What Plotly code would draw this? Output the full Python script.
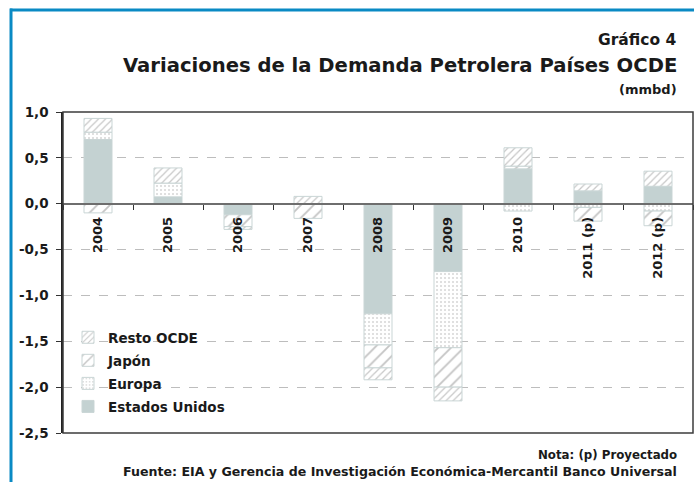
import plotly.graph_objects as go

categories = ["2004", "2005", "2006", "2007", "2008", "2009", "2010", "2011 (p)", "2012 (p)"]
estados_unidos = [0.70, 0.075, -0.12, None, -1.20, -0.74, 0.38, 0.14, 0.19]
europa = [0.08, 0.15, None, None, -0.34, -0.83, -0.08, -0.04, -0.08]
japon = [-0.10, None, -0.13, -0.16, -0.25, -0.43, 0.03, -0.15, -0.16]
resto_ocde = [0.15, 0.165, -0.03, 0.08, -0.13, -0.15, 0.20, 0.075, 0.165]

y_ticks = [1.0, 0.5, 0.0, -0.5, -1.0, -1.5, -2.0, -2.5]
y_ticktext = ["1,0", "0,5", "0,0", "-0,5", "-1,0", "-1,5", "-2,0", "-2,5"]

W, H = 694, 482
PL, PR, PT, PB = 63, 693, 112, 433
YMIN, YMAX = -2.5, 1.0

def px(x):
    return x / W

def py(y):
    return (H - y) / H

FONT = "DejaVu Sans, Verdana, sans-serif"
TXT = "#1a1a1a"
OUT = "#c9d5d5"

fig = go.Figure()
fig.add_trace(go.Bar(
    name="Estados Unidos", x=categories, y=estados_unidos, legendgroup="us", legendrank=4,
    marker=dict(color="#c4d2d2", line=dict(color=OUT, width=1)), width=0.4))
fig.add_trace(go.Bar(
    name="Europa", x=categories, y=europa, legendgroup="eu", legendrank=3,
    marker=dict(color="white", line=dict(color=OUT, width=1),
                pattern=dict(shape=".", size=4, solidity=0.2, fgcolor="#d6d6d6",
                             bgcolor="white", fillmode="replace")), width=0.4))
fig.add_trace(go.Bar(
    name="Japón", x=categories, y=japon, legendgroup="jp", legendrank=2,
    marker=dict(color="white", line=dict(color=OUT, width=1),
                pattern=dict(shape="/", size=9, solidity=0.2, fgcolor="#c4c4c4",
                             bgcolor="white", fillmode="replace")), width=0.4))
fig.add_trace(go.Bar(
    name="Resto OCDE", x=categories, y=resto_ocde, legendgroup="ro", legendrank=1,
    marker=dict(color="white", line=dict(color=OUT, width=1),
                pattern=dict(shape="/", size=5, solidity=0.25, fgcolor="#c8c8c8",
                             bgcolor="white", fillmode="replace")), width=0.4))

zero_pos = py(PT + (PB - PT) * (YMAX - 0) / (YMAX - YMIN))

fig.update_layout(
    width=W, height=H,
    margin=dict(l=0, r=0, t=0, b=0),
    paper_bgcolor="white", plot_bgcolor="white",
    barmode="relative",
    bargap=0.6,
    font=dict(family=FONT, color=TXT, size=13, weight="bold"),
    showlegend=True,
    legend=dict(
        x=px(68), y=py(322), xanchor="left", yanchor="top",
        traceorder="grouped", tracegroupgap=2.5, bgcolor="rgba(0,0,0,0)",
        font=dict(family=FONT, size=13.5, color=TXT, weight="bold"),
        itemwidth=30,
    ),
    xaxis=dict(
        domain=[px(PL), px(PR)],
        anchor="free", position=zero_pos,
        type="category",
        showline=True, linecolor="#6e6e6e", linewidth=2,
        ticks="outside", tickson="boundaries", ticklen=5, tickcolor="#333333", tickwidth=1,
        tickangle=-90,
        ticklabelstandoff=7,
        tickfont=dict(family=FONT, size=13, color=TXT, weight="bold"),
        showgrid=False, zeroline=False, automargin=False,
    ),
    yaxis=dict(
        domain=[py(PB), py(PT)],
        range=[YMIN, YMAX],
        tickvals=y_ticks, ticktext=y_ticktext,
        ticks="outside", ticklen=5, tickcolor="#333333",
        tickfont=dict(family=FONT, size=13.5, color=TXT, weight="bold"),
        ticklabelstandoff=5,
        showline=True, linecolor="#222222", linewidth=1.5,
        showgrid=True, gridcolor="#bdbdbd", griddash="dash", gridwidth=1,
        zeroline=False, automargin=False,
    ),
)

shapes = [
    dict(type="rect", xref="paper", yref="paper",
         x0=px(PL), x1=px(PR), y0=py(PB), y1=py(PT),
         line=dict(color="#3c3c3c", width=1.5), layer="above"),
    dict(type="line", xref="paper", yref="paper", x0=px(10), x1=px(W + 2), y0=py(10), y1=py(10),
         line=dict(color="#0a8ac4", width=3)),
    dict(type="line", xref="paper", yref="paper", x0=px(11), x1=px(11), y0=py(8.5), y1=py(H + 2),
         line=dict(color="#0a8ac4", width=3)),
]
fig.update_layout(shapes=shapes)

annots = [
    dict(text="Gráfico 4", x=px(679), y=py(40), size=15.5),
    dict(text="Variaciones de la Demanda Petrolera Países OCDE", x=px(679), y=py(66), size=19.6),
    dict(text="(mmbd)", x=px(679), y=py(89), size=13),
    dict(text="Nota: (p) Proyectado", x=px(679), y=py(455), size=11.8),
    dict(text="Fuente: EIA y Gerencia de Investigación Económica-Mercantil Banco Universal",
         x=px(679), y=py(471), size=12.6),
]
for a in annots:
    fig.add_annotation(
        text=a["text"], x=a["x"], y=a["y"], xref="paper", yref="paper",
        xanchor="right", yanchor="middle", showarrow=False,
        font=dict(family=FONT, size=a["size"], color=TXT, weight="bold"),
    )

fig.write_html(
    "out.html",
    config={"displayModeBar": False},
    post_script="document.body.style.margin='0';document.body.style.overflow='hidden';",
)
